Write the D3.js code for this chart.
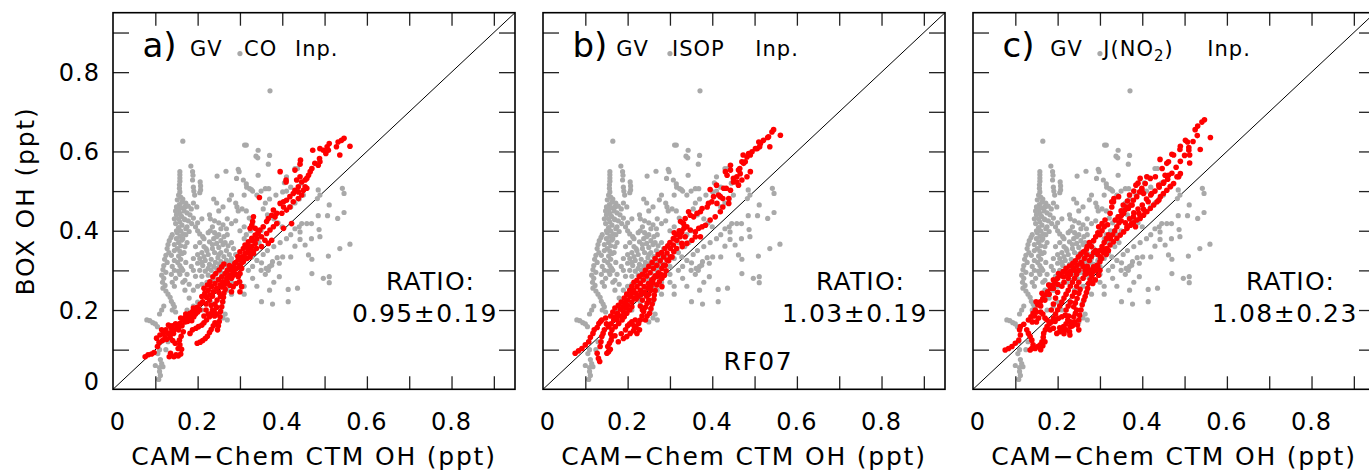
<!DOCTYPE html>
<html>
<head>
<meta charset="utf-8">
<script src="https://cdn.jsdelivr.net/npm/d3@7"></script>
<style>
body { margin: 0; background: #fff; }
text { font-family: "DejaVu Sans", sans-serif; fill: #000; }
</style>
</head>
<body>
<script>
// tick values and labels
var tickVals = [0.1, 0.2, 0.3, 0.4, 0.5, 0.6, 0.7, 0.8, 0.9];
var labelVals = [0, 0.2, 0.4, 0.6, 0.8];
var labelText = ["0", "0.2", "0.4", "0.6", "0.8"];
var panelLetters = ["a)", "b)", "c)"];
var panelWords = [["GV", "CO", "Inp."], ["GV", "ISOP", "Inp."], ["GV", "J(NO|2|)", "Inp."]];
var ratioVals = ["0.95\u00b10.19", "1.03\u00b10.19", "1.08\u00b10.23"];
var xTitle = "CAM\u2212Chem CTM OH (ppt)";
var yTitle = "BOX OH (ppt)";

// base box model OH (gray), same in all panels
var grayPts = [
[0.30,0.847],[0.371,0.753],[0.165,0.626],[0.311,0.616],[0.315,0.616],[0.343,0.603],[0.338,0.588],[0.342,0.584],[0.37,0.59],[0.367,0.568],
[0.184,0.563],[0.158,0.549],[0.158,0.541],[0.158,0.533],[0.158,0.525],[0.157,0.516],[0.157,0.507],[0.158,0.498],[0.188,0.549],[0.189,0.54],
[0.188,0.528],[0.206,0.523],[0.207,0.513],[0.207,0.503],[0.205,0.496],[0.19,0.51],[0.191,0.5],[0.193,0.49],
[0.246,0.538],[0.267,0.55],[0.296,0.555],[0.298,0.549],[0.292,0.532],[0.308,0.528],[0.316,0.51],[0.315,0.518],[0.327,0.504],[0.323,0.506],
[0.343,0.54],[0.36,0.506],[0.368,0.506],[0.401,0.498],[0.405,0.521],[0.41,0.536],[0.43,0.557],[0.436,0.557],[0.485,0.503],[0.489,0.49],
[0.483,0.481],[0.542,0.507],[0.546,0.494],[0.511,0.465],[0.546,0.446],[0.531,0.431],[0.507,0.438],[0.485,0.438],[0.469,0.418],[0.458,0.418],
[0.446,0.418],[0.487,0.403],[0.489,0.385],[0.469,0.38],[0.442,0.397],[0.442,0.378],[0.454,0.364],[0.43,0.361],[0.462,0.339],[0.47,0.328],
[0.509,0.336],[0.536,0.355],[0.56,0.366],[0.42,0.334],[0.401,0.334],[0.388,0.332],[0.393,0.318],[0.377,0.322],[0.375,0.313],[0.37,0.31],
[0.362,0.305],[0.367,0.3],[0.47,0.292],[0.497,0.28],[0.511,0.284],[0.511,0.269],[0.393,0.284],[0.414,0.252],[0.436,0.255],[0.351,0.319],
[0.328,0.334],[0.351,0.221],[0.377,0.215],[0.414,0.221],
[0.155,0.49],[0.16,0.485],[0.152,0.478],[0.163,0.472],[0.157,0.466],[0.15,0.46],[0.162,0.458],[0.155,0.452],[0.168,0.45],[0.158,0.444],
[0.15,0.44],[0.162,0.436],[0.155,0.43],[0.17,0.428],[0.158,0.422],[0.148,0.418],[0.163,0.414],[0.155,0.408],[0.16,0.4],[0.152,0.395],
[0.165,0.392],[0.158,0.386],[0.15,0.38],[0.162,0.376],[0.155,0.37],[0.16,0.362],[0.152,0.355],[0.158,0.348],[0.163,0.342],[0.155,0.336],
[0.16,0.328],[0.153,0.32],[0.158,0.312],[0.162,0.305],[0.155,0.298],[0.158,0.29],
[0.165,0.48],[0.17,0.46],[0.168,0.43],[0.172,0.405],[0.165,0.38],[0.17,0.36],[0.175,0.37],[0.168,0.345],[0.172,0.32],[0.165,0.3],
[0.175,0.29],[0.17,0.275],[0.145,0.365],[0.15,0.4],[0.145,0.43],[0.148,0.45],
[0.172,0.47],[0.178,0.462],[0.185,0.455],[0.175,0.445],[0.182,0.44],[0.19,0.432],[0.178,0.425],[0.186,0.418],[0.195,0.41],[0.2,0.4],
[0.205,0.392],[0.212,0.385],[0.2,0.42],[0.21,0.43],[0.175,0.41],[0.18,0.398],[0.172,0.39],[0.19,0.47],[0.198,0.46],
[0.14,0.39],[0.137,0.383],[0.133,0.375],[0.13,0.365],[0.128,0.355],[0.132,0.345],[0.125,0.338],[0.122,0.328],[0.128,0.32],[0.12,0.312],
[0.118,0.302],[0.125,0.295],[0.115,0.288],[0.12,0.28],[0.117,0.27],[0.123,0.262],[0.118,0.255],[0.125,0.248],[0.13,0.24],[0.135,0.232],
[0.138,0.222],[0.142,0.215],[0.145,0.208],[0.14,0.2],[0.148,0.195],[0.145,0.26],[0.14,0.27],[0.148,0.28],[0.138,0.29],[0.145,0.3],
[0.14,0.31],[0.145,0.325],[0.138,0.338],[0.145,0.35],[0.08,0.175],[0.087,0.173],[0.094,0.168],[0.1,0.165],[0.105,0.158],[0.11,0.19],
[0.115,0.2],[0.12,0.21],
[0.108,0.12],[0.11,0.1],[0.106,0.09],[0.112,0.075],[0.1,0.06],[0.11,0.055],[0.118,0.057],[0.11,0.045],[0.112,0.035],[0.108,0.025],
[0.115,0.065],[0.125,0.1],[0.13,0.12],
[0.23,0.4],[0.24,0.395],[0.25,0.39],[0.238,0.38],[0.228,0.372],[0.245,0.368],[0.255,0.375],[0.262,0.385],[0.26,0.365],[0.25,0.358],
[0.235,0.355],[0.222,0.35],[0.215,0.36],[0.21,0.345],[0.225,0.34],[0.24,0.345],[0.255,0.345],[0.268,0.35],[0.272,0.362],[0.28,0.37],
[0.285,0.355],[0.275,0.34],[0.262,0.335],[0.248,0.332],[0.232,0.328],[0.218,0.325],[0.205,0.33],[0.2,0.318],[0.212,0.312],[0.228,0.315],
[0.242,0.32],[0.255,0.322],[0.268,0.325],[0.28,0.33],[0.29,0.34],[0.295,0.325],[0.285,0.315],[0.272,0.31],[0.258,0.308],[0.245,0.305],
[0.232,0.3],[0.218,0.298],[0.205,0.3],[0.21,0.285],[0.225,0.288],[0.24,0.29],[0.255,0.295],[0.27,0.298],[0.262,0.282],[0.248,0.278],
[0.235,0.275],[0.222,0.27],[0.19,0.3],[0.195,0.285],[0.185,0.31],[0.275,0.28],
[0.215,0.335],[0.22,0.355],[0.235,0.365],[0.25,0.34],[0.265,0.37],[0.27,0.39],[0.245,0.385],[0.255,0.405],[0.235,0.41],[0.225,0.395],
[0.215,0.38],[0.205,0.37],[0.195,0.36],[0.2,0.34],[0.19,0.33],[0.21,0.32],[0.225,0.305],[0.238,0.31],[0.252,0.315],[0.265,0.315],
[0.278,0.32],
[0.228,0.44],[0.23,0.43],[0.24,0.425],[0.25,0.42],[0.26,0.415],[0.268,0.405],[0.27,0.43],[0.28,0.418],[0.29,0.425],[0.29,0.47],
[0.293,0.46],[0.296,0.45],[0.305,0.455],[0.315,0.45],[0.322,0.432],[0.33,0.42],[0.31,0.41],[0.3,0.4],[0.315,0.39],[0.325,0.4],
[0.34,0.39],[0.35,0.4],[0.345,0.37],[0.335,0.36],[0.32,0.37],[0.31,0.38],[0.25,0.45],[0.245,0.47],[0.238,0.48],[0.26,0.46],
[0.275,0.478],[0.28,0.49],
[0.26,0.26],[0.27,0.25],[0.28,0.24],[0.26,0.22],[0.255,0.2],[0.265,0.19],[0.27,0.175],[0.26,0.18],[0.25,0.17],[0.28,0.27],
[0.3,0.27],[0.31,0.26],[0.3,0.29],[0.32,0.3],[0.33,0.28],[0.31,0.24],[0.35,0.3],[0.36,0.29],[0.34,0.26],[0.38,0.27],
[0.37,0.25],[0.2,0.22],[0.21,0.2],[0.22,0.24],[0.23,0.22],[0.24,0.25],[0.175,0.2],[0.19,0.21],[0.18,0.23],[0.17,0.25],
[0.165,0.27],[0.18,0.265],[0.19,0.25],[0.2,0.26],[0.21,0.265],
[0.3,0.31],[0.31,0.33],[0.32,0.345],[0.33,0.31],[0.34,0.325],[0.355,0.34],[0.365,0.35],[0.38,0.36],[0.395,0.37],[0.41,0.38],
[0.42,0.39],[0.43,0.405],[0.44,0.41],[0.4,0.41],[0.39,0.42],[0.38,0.43],[0.365,0.44],[0.355,0.455],[0.36,0.47],[0.37,0.48],
[0.385,0.49],[0.42,0.46],[0.43,0.47],[0.44,0.48],[0.45,0.49],[0.41,0.5],[0.42,0.51],[0.445,0.52],[0.35,0.5],[0.34,0.49],
[0.33,0.5],[0.31,0.49]
];

// a) GV CO input
var redA = [
[0.076,0.082],[0.083,0.087],[0.091,0.089],[0.097,0.093],
[0.105,0.108],[0.109,0.118],[0.103,0.129],[0.111,0.137],[0.119,0.141],[0.125,0.15],[0.131,0.141],[0.135,0.131],[0.127,0.126],[0.117,0.123],
[0.139,0.15],[0.136,0.158],[0.131,0.162],[0.115,0.15],[0.123,0.131],[0.143,0.141],[0.141,0.123],[0.147,0.116],
[0.133,0.082],[0.136,0.091],[0.144,0.082],[0.149,0.087],[0.154,0.084],[0.16,0.089],[0.162,0.101],[0.158,0.112],[0.157,0.124],[0.161,0.134],
[0.166,0.145],[0.154,0.103],
[0.152,0.158],[0.158,0.166],[0.165,0.175],[0.17,0.181],[0.176,0.187],[0.182,0.192],[0.188,0.196],[0.194,0.202],[0.199,0.207],[0.206,0.215],
[0.212,0.221],[0.18,0.179],[0.186,0.173],[0.191,0.183],[0.176,0.171],
[0.182,0.141],[0.188,0.15],[0.196,0.154],[0.202,0.158],[0.21,0.162],[0.215,0.168],[0.221,0.175],[0.228,0.183],[0.233,0.192],[0.239,0.198],
[0.245,0.207],
[0.199,0.116],[0.206,0.119],[0.212,0.123],[0.218,0.128],[0.223,0.134],[0.228,0.143],[0.232,0.151],[0.237,0.16],[0.241,0.168],
[0.247,0.15],[0.249,0.16],[0.251,0.171],[0.253,0.183],[0.254,0.196],[0.257,0.208],[0.259,0.221],[0.261,0.232],[0.262,0.242],[0.254,0.234],
[0.246,0.225],[0.241,0.215],[0.265,0.252],[0.263,0.263],[0.267,0.271],
[0.28,0.246],[0.284,0.259],[0.291,0.267],[0.299,0.271],[0.304,0.259],[0.3,0.246],[0.296,0.284],[0.288,0.292],[0.28,0.28],
[0.21,0.234],[0.217,0.242],[0.225,0.25],[0.221,0.232],[0.229,0.238],[0.233,0.259],[0.237,0.246],[0.241,0.267],[0.245,0.255],[0.249,0.276],
[0.253,0.263],[0.257,0.284],[0.259,0.271],[0.265,0.292],[0.269,0.28],[0.273,0.301],[0.276,0.288],[0.28,0.309],[0.283,0.297],[0.288,0.318],
[0.292,0.305],[0.296,0.326],[0.3,0.313],[0.304,0.334],[0.308,0.322],[0.312,0.343],[0.316,0.33],[0.32,0.351],[0.324,0.339],[0.328,0.36],
[0.332,0.347],[0.336,0.368],[0.215,0.255],[0.223,0.263],[0.229,0.271],[0.236,0.284],[0.243,0.292],[0.251,0.301],[0.257,0.309],[0.262,0.316],
[0.27,0.3],[0.275,0.312],[0.285,0.305],[0.29,0.32],[0.295,0.335],[0.305,0.32],[0.31,0.335],[0.318,0.345],[0.326,0.352],[0.315,0.36],
[0.32,0.36],[0.33,0.375],[0.34,0.38],[0.29,0.29],[0.282,0.285],[0.27,0.27],[0.276,0.262],[0.25,0.245],[0.255,0.258],[0.235,0.235],
[0.228,0.225],[0.22,0.215],[0.232,0.212],[0.22,0.2],[0.205,0.2],[0.195,0.19],[0.185,0.185],[0.17,0.17],[0.163,0.16],[0.155,0.15],
[0.145,0.15],[0.14,0.16],[0.148,0.165],[0.16,0.18],[0.172,0.19],[0.19,0.205],[0.2,0.195],[0.215,0.185],[0.225,0.19],[0.235,0.2],
[0.24,0.185],[0.245,0.19],
[0.3,0.347],[0.308,0.355],[0.312,0.364],[0.32,0.372],[0.328,0.381],[0.336,0.389],[0.343,0.397],[0.347,0.402],[0.355,0.41],[0.363,0.423],
[0.367,0.431],[0.375,0.439],[0.379,0.452],[0.387,0.444],[0.395,0.469],[0.403,0.473],[0.403,0.46],[0.41,0.477],[0.418,0.486],[0.426,0.494],
[0.43,0.502],[0.438,0.498],[0.434,0.528],[0.438,0.511],[0.442,0.536],[0.446,0.523],[0.45,0.502],[0.454,0.528],[0.458,0.532],[0.462,0.54],
[0.466,0.549],[0.47,0.557],[0.477,0.57],[0.485,0.565],[0.488,0.582],[0.489,0.574],[0.497,0.603],[0.503,0.595],[0.506,0.612],[0.509,0.603],
[0.511,0.62],[0.528,0.612],[0.532,0.624],[0.54,0.628],[0.546,0.633],[0.536,0.591],[0.56,0.613],[0.472,0.603],[0.489,0.607],[0.443,0.578],
[0.442,0.568],[0.395,0.549],[0.409,0.528],[0.409,0.523],[0.346,0.484],
[0.332,0.435],[0.33,0.423],[0.328,0.414],[0.324,0.406],[0.336,0.406],[0.343,0.393],[0.351,0.385],[0.363,0.393],[0.371,0.402],[0.379,0.41],
[0.387,0.418],[0.403,0.406],[0.422,0.418],[0.359,0.376],[0.367,0.368],[0.375,0.376],[0.351,0.36],[0.339,0.355],[0.332,0.343],[0.324,0.334],
[0.316,0.33],[0.308,0.326],[0.3,0.313],[0.304,0.305],[0.3,0.292],
[0.383,0.435],[0.399,0.444],[0.41,0.452],[0.418,0.46],[0.426,0.473],[0.438,0.481],[0.446,0.49],[0.454,0.511],[0.458,0.507],[0.43,0.553]
];

// b) GV ISOP input
var redB = [
[0.076,0.091],[0.084,0.097],[0.092,0.103],[0.1,0.112],[0.108,0.12],[0.112,0.131],[0.118,0.141],[0.121,0.15],[0.128,0.156],[0.132,0.166],
[0.136,0.171],[0.139,0.175],[0.128,0.091],[0.131,0.078],[0.134,0.07],[0.135,0.108],[0.137,0.12],[0.139,0.133],[0.142,0.141],[0.151,0.091],
[0.155,0.095],[0.159,0.101],[0.153,0.108],[0.157,0.116],[0.161,0.124],[0.163,0.133],
[0.155,0.158],[0.161,0.165],[0.167,0.175],[0.171,0.183],[0.176,0.192],[0.183,0.202],[0.189,0.208],[0.194,0.218],[0.2,0.225],[0.206,0.234],
[0.21,0.242],[0.163,0.15],[0.171,0.158],[0.179,0.166],[0.187,0.175],[0.192,0.183],[0.198,0.192],[0.205,0.2],[0.21,0.208],
[0.198,0.133],[0.206,0.141],[0.214,0.148],[0.22,0.156],[0.226,0.166],[0.23,0.175],[0.234,0.185],[0.238,0.196],[0.242,0.207],[0.246,0.217],
[0.25,0.225],[0.222,0.141],[0.228,0.15],[0.252,0.192],[0.255,0.204],[0.258,0.215],[0.262,0.227],[0.263,0.238],[0.265,0.249],[0.242,0.175],
[0.246,0.185],
[0.145,0.15],[0.15,0.165],[0.148,0.18],[0.16,0.185],[0.165,0.195],[0.17,0.205],[0.178,0.212],[0.185,0.22],[0.192,0.23],[0.198,0.24],
[0.205,0.25],[0.21,0.26],[0.215,0.27],[0.222,0.275],[0.228,0.285],[0.235,0.29],[0.242,0.3],[0.25,0.31],[0.258,0.32],[0.265,0.33],
[0.272,0.34],[0.28,0.345],[0.288,0.355],[0.295,0.362],[0.3,0.37],[0.308,0.38],[0.315,0.39],[0.322,0.4],[0.31,0.395],[0.175,0.175],
[0.182,0.185],[0.19,0.195],[0.195,0.205],[0.2,0.212],[0.21,0.22],[0.215,0.23],[0.22,0.228],[0.225,0.235],[0.232,0.24],[0.24,0.245],
[0.248,0.255],[0.255,0.26],[0.26,0.268],[0.262,0.28],[0.27,0.285],[0.278,0.29],[0.25,0.24],[0.255,0.25],[0.235,0.2],[0.23,0.21],
[0.235,0.225],[0.245,0.235],[0.215,0.16],[0.21,0.17],[0.218,0.175],[0.2,0.16],[0.195,0.15],[0.205,0.165],[0.185,0.14],[0.19,0.128],
[0.178,0.12],[0.17,0.135],[0.16,0.14],
[0.214,0.25],[0.222,0.259],[0.23,0.267],[0.237,0.276],[0.245,0.286],[0.253,0.294],[0.261,0.305],[0.269,0.313],[0.277,0.324],[0.285,0.334],
[0.293,0.344],[0.301,0.355],[0.308,0.364],[0.22,0.242],[0.23,0.25],[0.239,0.259],[0.249,0.267],[0.257,0.276],[0.265,0.286],[0.273,0.294],
[0.281,0.305],[0.289,0.313],[0.297,0.324],[0.305,0.334],[0.269,0.263],[0.275,0.271],[0.281,0.28],[0.287,0.288],[0.291,0.299],[0.281,0.259],
[0.316,0.376],[0.324,0.385],[0.328,0.397],[0.333,0.406],[0.316,0.355],[0.309,0.347],[0.301,0.334],[0.293,0.326],[0.285,0.313],[0.328,0.368],
[0.545,0.655],[0.541,0.649],[0.561,0.641],[0.531,0.635],[0.536,0.612],[0.51,0.624],[0.514,0.62],[0.512,0.612],[0.506,0.607],[0.486,0.595],
[0.49,0.591],[0.482,0.586],[0.473,0.591],[0.47,0.574],[0.474,0.57],[0.443,0.565],[0.443,0.553],[0.462,0.553],[0.466,0.544],[0.435,0.54],
[0.431,0.549],[0.458,0.536],[0.45,0.532],[0.45,0.523],[0.458,0.523],[0.427,0.507],[0.433,0.507],[0.443,0.502],[0.439,0.481],[0.425,0.481],
[0.419,0.486],[0.415,0.49],[0.403,0.486],[0.395,0.504],[0.41,0.515],[0.411,0.469],[0.399,0.473],[0.391,0.469],[0.388,0.46],[0.376,0.456],
[0.372,0.448],[0.364,0.444],[0.356,0.435],[0.348,0.439],[0.344,0.448],[0.336,0.431],[0.332,0.418],[0.325,0.423],[0.34,0.41],[0.348,0.402],
[0.36,0.397],[0.368,0.406],[0.376,0.41],[0.384,0.414],[0.395,0.427],[0.407,0.435],[0.419,0.448],[0.425,0.46],[0.439,0.469],[0.36,0.385],
[0.352,0.376],[0.34,0.368],[0.329,0.36],[0.336,0.385],[0.325,0.393],[0.372,0.385],
[0.502,0.607],[0.494,0.599],[0.478,0.574],[0.465,0.557],[0.521,0.628],[0.533,0.637],[0.49,0.549],[0.482,0.536],[0.47,0.528],[0.462,0.515]
];

// c) GV J(NO2) input
var redC = [
[0.076,0.099],[0.084,0.103],[0.092,0.108],[0.1,0.116],[0.108,0.124],[0.112,0.137],[0.11,0.15],[0.112,0.158],[0.12,0.164],[0.127,0.15],
[0.131,0.141],[0.135,0.133],[0.139,0.124],[0.142,0.112],[0.139,0.103],[0.135,0.099],[0.147,0.103],[0.153,0.108],[0.159,0.112],[0.163,0.12],
[0.166,0.131],[0.167,0.141],[0.171,0.15],[0.175,0.158],
[0.131,0.175],[0.137,0.183],[0.142,0.192],[0.147,0.2],[0.153,0.213],[0.159,0.221],[0.165,0.229],[0.171,0.238],[0.176,0.246],[0.183,0.255],
[0.189,0.263],[0.194,0.271],[0.2,0.28],[0.206,0.288],[0.213,0.297],[0.22,0.305],[0.228,0.311],[0.236,0.318],[0.242,0.324],[0.249,0.334],
[0.255,0.341],[0.261,0.347],[0.268,0.353],[0.149,0.221],[0.163,0.242],[0.179,0.263],[0.19,0.276],[0.202,0.292],[0.214,0.284],[0.222,0.292],
[0.23,0.297],[0.238,0.305],[0.246,0.313],[0.257,0.318],[0.263,0.33],[0.269,0.339],
[0.198,0.141],[0.205,0.145],[0.21,0.15],[0.214,0.158],[0.22,0.165],[0.224,0.175],[0.226,0.185],[0.228,0.145],[0.23,0.158],[0.229,0.137],
[0.182,0.15],[0.19,0.154],[0.194,0.171],[0.202,0.179],[0.21,0.183],[0.218,0.187],[0.238,0.183],[0.242,0.192],[0.245,0.2],[0.238,0.208],
[0.242,0.218],[0.246,0.229],[0.25,0.242],[0.253,0.252],[0.25,0.15],[0.247,0.162],[0.25,0.175],[0.252,0.187],[0.255,0.2],[0.258,0.213],
[0.262,0.225],[0.265,0.234],[0.268,0.244],[0.271,0.255],[0.273,0.267],[0.277,0.276],[0.281,0.286],[0.285,0.297],[0.289,0.305],[0.293,0.313],
[0.3,0.322],[0.304,0.33],[0.283,0.267],[0.289,0.276],[0.297,0.288],
[0.27,0.36],[0.275,0.37],[0.28,0.36],[0.285,0.375],[0.29,0.385],[0.295,0.395],[0.3,0.39],[0.305,0.4],[0.31,0.41],[0.318,0.415],
[0.27,0.31],[0.275,0.325],[0.28,0.335],[0.285,0.345],[0.29,0.35],[0.295,0.34],[0.3,0.35],[0.305,0.36],[0.31,0.37],[0.315,0.38],
[0.32,0.39],[0.325,0.38],[0.33,0.39],[0.335,0.4],[0.34,0.41],[0.345,0.42],[0.35,0.425],[0.31,0.35],[0.315,0.34],[0.32,0.35],
[0.295,0.31],[0.29,0.3],[0.3,0.3],[0.28,0.29],[0.275,0.3],[0.265,0.3],[0.26,0.31],[0.255,0.32],[0.25,0.3],[0.245,0.29],
[0.24,0.28],[0.235,0.27],[0.23,0.26],[0.225,0.25],[0.22,0.24],[0.215,0.23],[0.21,0.22],[0.205,0.21],[0.2,0.2],[0.195,0.19],
[0.19,0.18],[0.185,0.17],[0.18,0.165],[0.175,0.175],[0.17,0.18],[0.165,0.19],[0.16,0.195],[0.185,0.2],[0.19,0.215],[0.195,0.23],
[0.2,0.245],[0.21,0.26],[0.215,0.27],[0.225,0.28],[0.23,0.29],[0.24,0.3],[0.2,0.265],[0.19,0.255],[0.18,0.24],[0.17,0.225],
[0.16,0.21],[0.15,0.195],[0.145,0.185],[0.14,0.17],[0.15,0.17],[0.155,0.18],[0.22,0.2],[0.225,0.21],[0.23,0.22],[0.235,0.235],
[0.24,0.245],[0.245,0.26],[0.25,0.27],[0.26,0.28],[0.265,0.29],[0.235,0.16],[0.24,0.17],[0.23,0.17],[0.205,0.155],[0.215,0.14],
[0.22,0.15],[0.16,0.1],[0.165,0.11],[0.17,0.12],
[0.269,0.292],[0.277,0.301],[0.285,0.309],[0.301,0.334],[0.309,0.344],[0.316,0.355],[0.324,0.364],[0.332,0.372],[0.34,0.381],[0.348,0.389],
[0.356,0.397],[0.364,0.406],[0.372,0.414],[0.379,0.42],[0.387,0.427],[0.395,0.435],[0.403,0.439],[0.411,0.448],[0.419,0.456],[0.427,0.465],
[0.435,0.473],[0.443,0.486],[0.45,0.494],[0.458,0.502],[0.466,0.511],[0.474,0.519],[0.482,0.536],[0.49,0.544],
[0.297,0.41],[0.305,0.418],[0.312,0.427],[0.324,0.444],[0.328,0.46],[0.328,0.473],[0.333,0.481],[0.343,0.435],[0.351,0.439],[0.359,0.452],
[0.367,0.456],[0.373,0.465],[0.379,0.477],[0.387,0.486],[0.394,0.498],[0.399,0.507],[0.407,0.519],
[0.36,0.42],[0.37,0.43],[0.38,0.445],[0.39,0.455],[0.4,0.465],[0.41,0.48],[0.42,0.49],[0.43,0.5],[0.44,0.51],[0.45,0.52],
[0.46,0.53],[0.47,0.545],[0.48,0.56],[0.49,0.575],[0.5,0.59],[0.51,0.61],[0.52,0.625],[0.53,0.64],[0.525,0.655],[0.35,0.45],
[0.355,0.465],[0.365,0.475],[0.37,0.49],[0.38,0.5],[0.385,0.515],[0.39,0.52],
[0.547,0.68],[0.541,0.674],[0.531,0.664],[0.561,0.635],[0.537,0.605],[0.51,0.603],[0.512,0.591],[0.512,0.571],[0.502,0.628],[0.507,0.624],
[0.49,0.613],[0.489,0.605],[0.47,0.593],[0.474,0.591],[0.462,0.574],[0.458,0.57],[0.442,0.58],[0.447,0.557],[0.454,0.54],[0.462,0.54],
[0.451,0.523],[0.467,0.512],[0.439,0.515],[0.431,0.536],[0.419,0.532],[0.411,0.536],[0.395,0.532],[0.399,0.502],[0.403,0.494],[0.422,0.494],
[0.439,0.477],[0.414,0.473],[0.403,0.454],[0.392,0.444],[0.379,0.435],[0.376,0.465],[0.364,0.46],[0.356,0.444],[0.344,0.486],[0.332,0.473],
[0.344,0.435],[0.336,0.427],[0.364,0.41],[0.375,0.418],[0.384,0.41],[0.486,0.536],[0.395,0.431],[0.407,0.448]
];

var redSets = [redA, redB, redC];

var width = 1369, height = 472;
var left0 = 113, top0 = 12.7, pw = 402, ph = 376.6, step = 430;

var svg = d3.select("body").append("svg")
    .attr("width", width)
    .attr("height", height);

var x = d3.scaleLinear().domain([0, 0.95]).range([0, pw]);
var y = d3.scaleLinear().domain([0, 0.95]).range([ph, 0]);

redSets.forEach(function (reds, i) {
    var g = svg.append("g")
        .attr("transform", "translate(" + (left0 + i * step) + "," + top0 + ")");

    // 1:1 line
    g.append("line")
        .attr("x1", x(0)).attr("y1", y(0))
        .attr("x2", x(0.95)).attr("y2", y(0.95))
        .attr("stroke", "#000").attr("stroke-width", 1);

    // gray points
    g.selectAll(".gp").data(grayPts).enter().append("circle")
        .attr("class", "gp")
        .attr("cx", function (d) { return x(d[0]); })
        .attr("cy", function (d) { return y(d[1]); })
        .attr("r", 2.6)
        .attr("fill", "#a9a9a9");

    // red points
    g.selectAll(".rp").data(reds).enter().append("circle")
        .attr("class", "rp")
        .attr("cx", function (d) { return x(d[0]); })
        .attr("cy", function (d) { return y(d[1]); })
        .attr("r", 2.8)
        .attr("fill", "#ff0000");

    // ticks on all four sides, pointing inward
    var axes = [
        [d3.axisBottom(x).tickSizeInner(-13), "translate(0," + ph + ")"],
        [d3.axisTop(x).tickSizeInner(-13), "translate(0,0)"],
        [d3.axisLeft(y).tickSizeInner(-16), "translate(0,0)"],
        [d3.axisRight(y).tickSizeInner(-16), "translate(" + pw + ",0)"]
    ];
    axes.forEach(function (a) {
        var ax = g.append("g").attr("transform", a[1])
            .call(a[0].tickValues(tickVals).tickSizeOuter(0).tickFormat(""));
        ax.select(".domain").remove();
        ax.selectAll("line").attr("stroke", "#222").attr("stroke-width", 1.3);
    });

    // frame
    g.append("rect")
        .attr("width", pw).attr("height", ph)
        .attr("fill", "none")
        .attr("stroke", "#000").attr("stroke-width", 1.6);

    // x tick labels
    g.selectAll(".xl").data(labelVals).enter().append("text")
        .attr("class", "xl")
        .attr("x", function (d, j) { return x(d) + (j === 0 ? 5 : 0); })
        .attr("y", 417.3)
        .attr("text-anchor", "middle")
        .style("font-size", "24px")
        .style("letter-spacing", "1px")
        .text(function (d, j) { return labelText[j]; });

    // x title
    g.append("text")
        .attr("x", pw / 2)
        .attr("y", 452.3)
        .attr("text-anchor", "middle")
        .style("font-size", "25px")
        .style("letter-spacing", "1.8px")
        .text(xTitle);

    // panel title
    g.append("text")
        .attr("x", 29.5).attr("y", 44)
        .style("font-size", "34px")
        .text(panelLetters[i]);
    var wordX = [[77, 131, 182], [73.3, 129, 212.3], [77.3, 130.3, 234.3]][i];
    panelWords[i].forEach(function (w, k) {
        var t = g.append("text")
            .attr("x", wordX[k]).attr("y", 43.5)
            .style("font-size", "21px")
            .style("letter-spacing", "1px");
        var parts = w.split("|");
        if (parts.length === 1) {
            t.text(w);
        } else {
            t.append("tspan").text(parts[0]);
            t.append("tspan").attr("dy", 5).style("font-size", "15px").text(parts[1]);
            t.append("tspan").attr("dy", -5).text(parts[2]);
        }
    });

    // ratio
    g.append("text")
        .attr("x", 317.5).attr("y", 277.3)
        .attr("text-anchor", "middle")
        .style("font-size", "25px")
        .style("letter-spacing", "1.2px")
        .text("RATIO:");
    g.append("text")
        .attr("x", 312).attr("y", 309.3)
        .attr("text-anchor", "middle")
        .style("font-size", "25px")
        .style("letter-spacing", "1.5px")
        .text(ratioVals[i]);

    if (i === 1) {
        g.append("text")
            .attr("x", 180.6).attr("y", 357.3)
            .style("font-size", "25px")
            .style("letter-spacing", "1.5px")
            .text("RF07");
    }

    if (i === 0) {
        // y tick labels
        g.selectAll(".yl").data(labelVals).enter().append("text")
            .attr("class", "yl")
            .attr("x", -13)
            .attr("y", function (d, j) { return y(d) + 8.5 - (j === 0 ? 8 : 0); })
            .attr("text-anchor", "end")
            .style("font-size", "24px")
            .style("letter-spacing", "1px")
            .text(function (d, j) { return labelText[j]; });
        // y title
        g.append("text")
            .attr("transform", "translate(" + (33.5 - left0) + "," + (ph / 2) + ") rotate(-90)")
            .attr("text-anchor", "middle")
            .style("font-size", "25px")
            .style("letter-spacing", "1.8px")
            .text(yTitle);
    }
});
</script>
</body>
</html>
